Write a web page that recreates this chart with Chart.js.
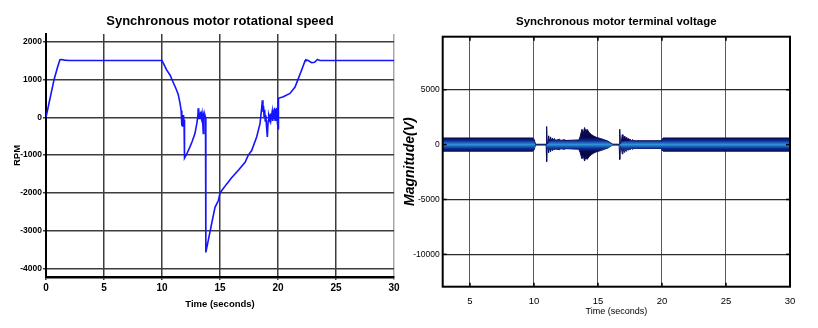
<!DOCTYPE html>
<html><head><meta charset="utf-8">
<script src="https://cdn.jsdelivr.net/npm/chart.js@4.4.1/dist/chart.umd.min.js"></script>
<style>
html,body{margin:0;padding:0;background:#fff;}
#wrap{position:relative;width:818px;height:328px;overflow:hidden;background:#fff;}
#c1{position:absolute;left:0;top:0;}
#c2{position:absolute;left:400px;top:0;}
</style></head><body>
<div id="wrap"><canvas id="c1" width="400" height="328"></canvas><canvas id="c2" width="418" height="328"></canvas></div>
<script>
// ---------- Data: rotational speed (RPM) ----------
const rpmTime = [0, 0.3, 0.7, 1.0, 1.2, 1.35, 1.6, 2.0, 10.0, 10.1, 10.4, 10.7, 11.0, 11.2, 11.4, 11.55, 11.65, 11.7, 11.72, 11.74, 11.76, 11.78, 11.8, 11.82, 11.84, 11.86, 11.88, 11.9, 11.93, 11.95, 12.1, 12.4, 12.6, 12.84, 13.0, 13.1, 13.12, 13.15, 13.18, 13.22, 13.25, 13.3, 13.35, 13.4, 13.45, 13.5, 13.56, 13.6, 13.65, 13.7, 13.75, 13.78, 14.3, 14.57, 14.86, 15.0, 15.14, 15.58, 16.0, 16.58, 17.16, 17.44, 17.73, 18.16, 18.45, 18.6, 18.65, 18.7, 18.75, 18.8, 18.85, 18.9, 18.95, 19.0, 19.08, 19.15, 19.2, 19.3, 19.35, 19.4, 19.5, 19.55, 19.6, 19.65, 19.7, 19.75, 19.8, 19.85, 19.9, 19.95, 20.0, 20.03, 20.05, 20.46, 21.03, 21.47, 21.75, 22.04, 22.33, 22.4, 22.6, 22.9, 23.15, 23.4, 23.6, 30];
const rpmValue = [0, 430, 1000, 1330, 1520, 1525, 1510, 1500, 1500, 1440, 1250, 1110, 900, 760, 600, 380, 180, 40, -220, 50, -250, -20, -200, 60, -150, 20, -180, -60, -100, -1080, -990, -790, -640, -430, -170, 60, 240, -50, 180, 20, 120, -30, 150, 0, 100, -80, -430, 40, -20, 60, 0, -3570, -2780, -2380, -2200, -2000, -1940, -1760, -1600, -1400, -1190, -1000, -880, -520, -170, 270, 450, 150, 300, 20, 200, -100, 50, -200, -520, -100, 50, -80, 100, -50, 150, -100, 200, -50, 250, -80, 220, 0, 250, -150, -300, 200, 500, 540, 630, 800, 1020, 1250, 1490, 1520, 1500, 1440, 1455, 1530, 1500, 1500];
const rpmXTicks = [0, 5, 10, 15, 20, 25, 30];
const rpmYTicks = [-4000, -3000, -2000, -1000, 0, 1000, 2000];

// ---------- Data: terminal voltage envelope (V) ----------
const voltTime = [2.87, 9.9, 10.0, 10.07, 10.12, 10.95, 10.98, 11.0, 11.03, 11.08, 11.15, 11.2, 11.3, 11.35, 11.45, 11.5, 11.6, 11.65, 11.8, 12.0, 12.1, 12.4, 12.5, 13.0, 13.5, 13.6, 13.75, 13.85, 13.95, 14.05, 14.15, 14.3, 14.5, 14.7, 14.9, 15.2, 15.5, 15.8, 16.0, 16.15, 16.65, 16.7, 16.75, 16.82, 16.9, 16.95, 17.05, 17.1, 17.2, 17.25, 17.35, 17.4, 17.5, 17.6, 17.7, 17.8, 18.0, 19.95, 20.0, 20.08, 30];
const voltUpper = [600, 600, 500, 250, 30, 30, 40, 1650, 100, 250, 800, 300, 700, 350, 600, 380, 550, 400, 420, 480, 380, 450, 370, 400, 420, 700, 1400, 1000, 1550, 1200, 1400, 1100, 900, 750, 650, 550, 430, 300, 150, 40, 30, 1400, 100, 250, 900, 300, 750, 330, 650, 340, 550, 350, 500, 350, 450, 350, 350, 350, 450, 600, 600];
const voltLower = [-600, -600, -500, -250, -30, -30, -40, -1550, -100, -250, -750, -300, -650, -350, -550, -380, -500, -400, -420, -460, -380, -430, -370, -400, -420, -700, -1300, -1000, -1500, -1150, -1350, -1100, -900, -750, -650, -550, -430, -300, -150, -40, -30, -1350, -100, -250, -850, -300, -700, -330, -600, -340, -500, -350, -480, -350, -430, -350, -350, -350, -450, -600, -600];
const voltXTicks = [5, 10, 15, 20, 25, 30];
const voltYTicks = [-10000, -5000, 0, 5000];

// ---------- Styling ----------
const SANS = '"Liberation Sans", Arial, Helvetica, sans-serif';
Chart.defaults.color = '#000';

const pts = (xs, ys) => xs.map((x, i) => ({x: x, y: ys[i]}));
const setTicks = (arr) => (scale) => { scale.ticks = arr.map(v => ({value: v})); };
const plain = (v) => String(v);

// ---------- Left chart ----------
new Chart(document.getElementById('c1'), {
  type: 'line',
  data: { datasets: [{
    data: pts(rpmTime, rpmValue),
    borderColor: '#1414ff', borderWidth: 1.6, pointRadius: 0, tension: 0, fill: false
  }]},
  options: {
    responsive: false, animation: false, devicePixelRatio: 1,
    layout: { padding: { left: 0, right: 6, top: 0, bottom: 0 } },
    plugins: {
      legend: { display: false }, tooltip: { enabled: false },
      title: { display: true, fullSize: false, text: 'Synchronous motor rotational speed',
        font: { family: SANS, size: 13, weight: 'bold' }, color: '#000',
        padding: { top: 13.7, bottom: 4.7 } }
    },
    scales: {
      x: {
        type: 'linear', min: 0, max: 30,
        afterBuildTicks: setTicks(rpmXTicks),
        afterFit: (s) => { s.height = 51; s.paddingLeft = 0; s.paddingRight = 0; },
        grid: { color: (c) => (c.tick && c.tick.value === 30) ? '#a8a8a8' : '#3c3c3c', lineWidth: 1.5, drawTicks: true, tickLength: 3 },
        border: { display: true, color: '#000', width: 2.5 },
        ticks: { padding: 2, maxRotation: 0, callback: plain, font: { family: SANS, size: 10, weight: 'bold' }, color: '#000' },
        title: { display: true, text: 'Time (seconds)', font: { family: SANS, size: 9.5, weight: 'bold' }, color: '#000', padding: { top: 0, bottom: 17.8 } }
      },
      y: {
        type: 'linear', min: -4220, max: 2200,
        afterBuildTicks: setTicks(rpmYTicks),
        afterFit: (s) => { s.width = 46; s.paddingTop = 0; s.paddingBottom = 0; },
        grid: { color: '#3c3c3c', lineWidth: 1.5, drawTicks: true, tickLength: 3 },
        border: { display: true, color: '#000', width: 2 },
        ticks: { padding: 1, callback: plain, font: { family: SANS, size: 8.5, weight: 'bold' }, color: '#000' },
        title: { display: true, text: 'RPM', font: { family: SANS, size: 9.5, weight: 'bold' }, color: '#000', padding: { top: 11.8, bottom: 0 } }
      }
    }
  }
});

// ---------- Right chart ----------
const frameTicks = {
  id: 'frameTicks',
  afterDraw(chart) {
    const {ctx, chartArea: a, scales} = chart;
    ctx.save();
    ctx.strokeStyle = '#000';
    ctx.lineWidth = 1.5;
    scales.x.ticks.forEach(t => {
      const px = scales.x.getPixelForValue(t.value);
      ctx.beginPath(); ctx.moveTo(px, a.top); ctx.lineTo(px, a.top + 4); ctx.stroke();
      ctx.beginPath(); ctx.moveTo(px, a.bottom); ctx.lineTo(px, a.bottom - 4); ctx.stroke();
    });
    scales.y.ticks.forEach(t => {
      const py = scales.y.getPixelForValue(t.value);
      ctx.beginPath(); ctx.moveTo(a.left, py); ctx.lineTo(a.left + 4, py); ctx.stroke();
      ctx.beginPath(); ctx.moveTo(a.right, py); ctx.lineTo(a.right - 4, py); ctx.stroke();
    });
    ctx.lineWidth = 2;
    ctx.strokeRect(a.left, a.top, a.right - a.left, a.bottom - a.top);
    ctx.restore();
  }
};

function bandGradient(c) {
  const chart = c.chart;
  if (!chart.chartArea) return '#1a4fb0';
  const y = chart.scales.y;
  const g = chart.ctx.createLinearGradient(0, y.getPixelForValue(650), 0, y.getPixelForValue(-650));
  g.addColorStop(0, '#08084a');
  g.addColorStop(0.22, '#0c2a92');
  g.addColorStop(0.5, '#2e94da');
  g.addColorStop(0.78, '#0c2a92');
  g.addColorStop(1, '#08084a');
  return g;
}

new Chart(document.getElementById('c2'), {
  type: 'line',
  data: { datasets: [
    { data: pts(voltTime, voltUpper), borderColor: '#0a0a55', borderWidth: 1, pointRadius: 0, tension: 0,
      fill: '+1', backgroundColor: bandGradient },
    { data: pts(voltTime, voltLower), borderColor: '#0a0a55', borderWidth: 1, pointRadius: 0, tension: 0, fill: false }
  ]},
  plugins: [frameTicks],
  options: {
    responsive: false, animation: false, devicePixelRatio: 1,
    layout: { padding: { left: 0, right: 28, top: 0, bottom: 0 } },
    plugins: {
      legend: { display: false }, tooltip: { enabled: false },
      title: { display: true, fullSize: false, text: 'Synchronous motor terminal voltage',
        font: { family: SANS, size: 11.5, weight: 'bold' }, color: '#000',
        padding: { top: 15.1, bottom: 7.8 } }
    },
    scales: {
      x: {
        type: 'linear', min: 2.87, max: 30,
        afterBuildTicks: setTicks(voltXTicks),
        afterFit: (s) => { s.height = 41.3; s.paddingLeft = 0; s.paddingRight = 0; },
        grid: { color: '#5a5a5a', lineWidth: 1, drawTicks: false },
        border: { display: false },
        ticks: { padding: 9, maxRotation: 0, callback: plain, font: { family: SANS, size: 9.5 }, color: '#000' },
        title: { display: true, text: 'Time (seconds)', font: { family: SANS, size: 9 }, color: '#000', padding: { top: 0, bottom: 10.6 } }
      },
      y: {
        type: 'linear', min: -12950, max: 9830,
        afterBuildTicks: setTicks(voltYTicks),
        afterFit: (s) => { s.width = 42.7; s.paddingTop = 0; s.paddingBottom = 0; },
        grid: { color: '#2a2a2a', lineWidth: 1.2, drawTicks: false },
        border: { display: false },
        ticks: { padding: 3, callback: plain, font: { family: SANS, size: 8.5 }, color: '#000' },
        title: { display: true, text: 'Magnitude(V)', font: { family: SANS, size: 14, weight: 'bold', style: 'italic' }, color: '#000', padding: { top: 1.6, bottom: 0 } }
      }
    }
  }
});
</script>
</body></html>
